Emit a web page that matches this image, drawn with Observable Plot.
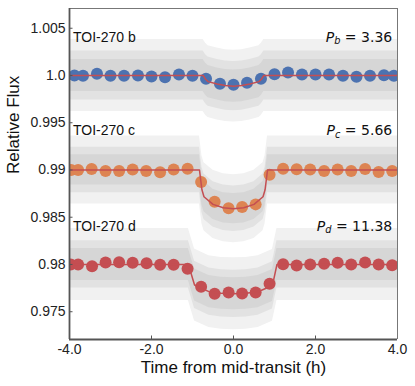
<!DOCTYPE html>
<html><head><meta charset="utf-8">
<script src="https://cdn.jsdelivr.net/npm/d3@7"></script>
<script src="https://cdn.jsdelivr.net/npm/@observablehq/plot@0.6"></script>
<style>body{margin:0;background:#fff}</style>
</head><body><div id="chart"></div>
<script>
// ---- binned light-curve points (time in h, relative flux) ----
const bTime = [-3.88, -3.67, -3.33, -3.0, -2.67, -2.33, -2.0, -1.67, -1.33, -1.0, -0.67, -0.33, 0.0, 0.33, 0.67, 1.0, 1.33, 1.67, 2.0, 2.33, 2.67, 3.0, 3.33, 3.67, 3.91];
const bFlux = [1.0, 0.99997, 1.00018, 0.99997, 0.99997, 1.0, 0.99989, 0.99982, 1.00011, 0.99997, 0.99965, 0.99912, 0.99902, 0.99923, 0.99965, 1.00013, 1.00032, 1.00011, 1.00011, 1.00011, 0.99997, 0.99986, 0.99997, 1.00003, 0.99997];
const cTime = [-3.96, -3.79, -3.46, -3.12, -2.79, -2.46, -2.13, -1.79, -1.46, -1.12, -0.79, -0.46, -0.12, 0.21, 0.54, 0.88, 1.21, 1.54, 1.87, 2.21, 2.54, 2.87, 3.21, 3.54, 3.87];
const cFlux = [0.99, 0.99, 0.99011, 0.98989, 0.98989, 0.99006, 0.98989, 0.98975, 0.99006, 0.99014, 0.98873, 0.98665, 0.98594, 0.98608, 0.98636, 0.9895, 0.99012, 0.99008, 0.99006, 0.98989, 0.99006, 0.98989, 0.99011, 0.98979, 0.98989];
const dTime = [-3.97, -3.79, -3.45, -3.12, -2.79, -2.46, -2.12, -1.79, -1.46, -1.12, -0.79, -0.46, -0.12, 0.21, 0.54, 0.88, 1.21, 1.54, 1.87, 2.21, 2.54, 2.87, 3.21, 3.54, 3.87];
const dFlux = [0.98, 0.98, 0.97982, 0.98021, 0.98024, 0.98018, 0.98014, 0.97997, 0.97997, 0.97955, 0.97765, 0.9769, 0.97704, 0.97693, 0.97704, 0.97796, 0.98003, 0.97989, 0.98, 0.98007, 0.98018, 0.98, 0.98021, 0.98, 0.97993];

// ---- transit models ----
const bModelTime = [-4, -0.74, -0.68, -0.62, -0.4, -0.2, 0, 0.2, 0.4, 0.62, 0.68, 0.74, 4];
const bModelFlux = [1.0, 1.0, 0.9996, 0.99935, 0.9991, 0.99893, 0.99887, 0.99893, 0.9991, 0.99935, 0.9996, 1.0, 1.0];
const cModelTime = [-4, -0.83, -0.77, -0.72, -0.5, -0.25, 0, 0.25, 0.5, 0.72, 0.77, 0.83, 4];
const cModelFlux = [0.99, 0.99, 0.9879, 0.98717, 0.98636, 0.986, 0.9859, 0.986, 0.98636, 0.98717, 0.9879, 0.99, 0.99];
const dModelTime = [-4, -1.1, -0.95, -0.6, -0.3, 0, 0.3, 0.6, 0.95, 1.06, 4];
const dModelFlux = [0.98, 0.98, 0.97783, 0.97712, 0.97695, 0.9769, 0.97695, 0.97712, 0.97778, 0.98, 0.98];

// ---- scatter of unbinned data: half-widths of dense core, body and sparse halo ----
const noiseCore = [0.0017, 0.0016, 0.0017];
const noiseBody = [0.0026, 0.0024, 0.0025];
const noiseHalo = [0.0038, 0.0036, 0.0038];

// ---- labels ----
const planetNames = ["TOI-270 b", "TOI-270 c", "TOI-270 d"];
const periodKeys = ["b", "c", "d"];
const periodValues = ["3.36", "5.66", "11.38"];
const labelFlux = [1.00407, 0.99413, 0.98407];
const binColors = ["#4c72b0", "#dd8452", "#c44e52"];
const modelColor = "#c44e52";

const xDomain = [-4, 4];
const yDomain = [0.97206, 1.00709];
const xTicks = [-4, -2, 0, 2, 4];
const yTicks = [1.005, 1.0, 0.995, 0.99, 0.985, 0.98, 0.975];
const yTickLabels = ["1.005", "1.0", "0.995", "0.99", "0.985", "0.98", "0.975"];

// ---- build tables ----
const binSets = [[bTime, bFlux], [cTime, cFlux], [dTime, dFlux]];
const modelSets = [[bModelTime, bModelFlux], [cModelTime, cModelFlux], [dModelTime, dModelFlux]];
const bins = binSets.flatMap(([T, F], p) => T.map((t, i) => ({t, f: F[i], p})));
const models = modelSets.map(([T, F], p) => T.map((t, i) => ({
  t, f: F[i], p,
  c1: F[i] - noiseCore[p], c2: F[i] + noiseCore[p],
  m1: F[i] - noiseBody[p], m2: F[i] + noiseBody[p],
  h1: F[i] - noiseHalo[p], h2: F[i] + noiseHalo[p]
})));
const labels = planetNames.map((name, p) => ({name, y: labelFlux[p], key: periodKeys[p], val: periodValues[p]}));

const W = 415, H = 386, mL = 69, mR = 18, mT = 8, mB = 47;
const plotW = W - mL - mR, plotH = H - mT - mB;

const chart = Plot.plot({
  width: W, height: H,
  marginLeft: mL, marginRight: mR, marginTop: mT, marginBottom: mB,
  style: {fontFamily: "'Liberation Sans', Arial, sans-serif", fontSize: "14px", background: "#fff", color: "#222"},
  x: {domain: xDomain},
  y: {domain: yDomain},
  marks: [
    ...models.map(m => Plot.areaY(m, {x: "t", y1: "h1", y2: "h2", fill: "#f1f1f1", clip: true})),
    ...models.map(m => Plot.areaY(m, {x: "t", y1: "m1", y2: "m2", fill: "#e2e2e2", clip: true})),
    ...models.map(m => Plot.areaY(m, {x: "t", y1: "c1", y2: "c2", fill: "#d6d6d6", clip: true})),
    Plot.dot(bins, {x: "t", y: "f", r: 6, fill: d => binColors[d.p], stroke: "none", clip: true}),
    ...models.map(m => Plot.line(m, {x: "t", y: "f", stroke: modelColor, strokeWidth: 1.5, clip: true})),
    Plot.text(labels, {y: "y", text: "name", frameAnchor: "left", dx: 3.5, textAnchor: "start", lineAnchor: "middle", fontSize: 14, fill: "#111"}),
    Plot.text(labels, {y: "y", text: d => "P_" + d.key + " = " + d.val, frameAnchor: "right", dx: -5.3, textAnchor: "end", lineAnchor: "middle", fontSize: 14, fill: "#111", fontFamily: "'DejaVu Sans', sans-serif"}),
    Plot.tickY(yTicks, {y: d => d, insetRight: plotW - 3.5, stroke: "#555", strokeWidth: 1}),
    Plot.tickX(xTicks, {x: d => d, insetTop: plotH - 3.5, stroke: "#555", strokeWidth: 1}),
    Plot.axisY({ticks: yTicks, tickFormat: d => yTickLabels[yTicks.indexOf(d)], tickSize: 0, tickPadding: 4, fontSize: 14, label: null}),
    Plot.axisX({ticks: xTicks, tickFormat: d => d.toFixed(1), tickSize: 0, tickPadding: 5, fontSize: 14, label: null}),
    Plot.ruleX([xDomain[1]], {stroke: "#777", strokeWidth: 1}),
    Plot.ruleY([yDomain[1]], {stroke: "#777", strokeWidth: 1}),
    Plot.ruleX([xDomain[0]], {stroke: "#555", strokeWidth: 1.8}),
    Plot.ruleY([yDomain[0]], {stroke: "#555", strokeWidth: 1.8}),
    Plot.text(["Time from mid-transit (h)"], {frameAnchor: "bottom", dy: 33, lineAnchor: "bottom", fontSize: 17, fill: "#111"}),
    Plot.text(["Relative Flux"], {frameAnchor: "left", rotate: -90, dx: -50.5, lineAnchor: "bottom", fontSize: 17, fill: "#111"})
  ]
});

// Render the period labels as P (italic) with a subscript, like mathtext
d3.select(chart).selectAll("text").each(function () {
  const s = this.textContent;
  const m = /^P_(\w) = (.*)$/.exec(s);
  if (!m) return;
  const t = d3.select(this);
  t.text(null);
  t.append("tspan").attr("font-style", "italic").text("P");
  t.append("tspan").attr("font-style", "italic").attr("font-size", "9.8px").attr("dy", "2.6px").text(m[1]);
  t.append("tspan").attr("dy", "-2.6px").text(" = " + m[2]);
});

document.getElementById("chart").appendChild(chart);
</script>
</body></html>
